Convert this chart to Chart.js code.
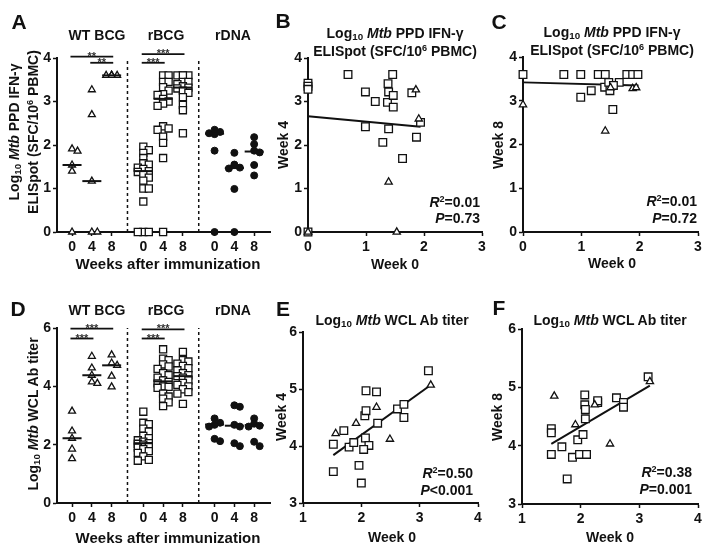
<!DOCTYPE html>
<html>
<head>
<meta charset="utf-8">
<title>Mtb PPD IFN-γ ELISpot and WCL Ab titer</title>
<script src="https://cdn.jsdelivr.net/npm/chart.js@4.4.1/dist/chart.umd.min.js"></script>
<style>
    html, body { margin: 0; padding: 0; background: #fff; }
    #page {
        position: relative;
        width: 713px;
        height: 547px;
        overflow: hidden;
        font-family: 'Liberation Sans', Arial, Helvetica, sans-serif;
        font-weight: bold;
        color: #111;
    }
    #page canvas { position: absolute; left: 0; top: 0; }
    .t {
        position: absolute;
        transform: translate(-50%, -50%);
        white-space: nowrap;
        font-size: 14px;
        line-height: 1;
    }
    .rt {
        position: absolute;
        transform: translate(-100%, -50%);
        white-space: nowrap;
        font-size: 14px;
        line-height: 1;
    }
    .rot { transform: translate(-50%, -50%) rotate(-90deg); }
    .letter { font-size: 21px; }
    .big { font-size: 15px; }
    sub { font-size: 0.7em; vertical-align: -0.25em; line-height: 0; }
    sup { font-size: 0.65em; vertical-align: 0.55em; line-height: 0; }
</style>
</head>
<body>
<div id="page">
    <canvas id="chartA" width="713" height="547"></canvas>
    <canvas id="chartB" width="713" height="547"></canvas>
    <canvas id="chartC" width="713" height="547"></canvas>
    <canvas id="chartD" width="713" height="547"></canvas>
    <canvas id="chartE" width="713" height="547"></canvas>
    <canvas id="chartF" width="713" height="547"></canvas>

    <!-- panel letters -->
    <div class="t letter" style="left:19px;top:21px">A</div>
    <div class="t letter" style="left:283px;top:20px">B</div>
    <div class="t letter" style="left:499px;top:21px">C</div>
    <div class="t letter" style="left:18px;top:308px">D</div>
    <div class="t letter" style="left:283px;top:308px">E</div>
    <div class="t letter" style="left:499px;top:307px">F</div>

    <!-- A -->
    <div class="t rot" style="left:14px;top:132px">Log<sub>10</sub> <i>Mtb</i> PPD IFN-γ</div>
    <div class="t rot" style="left:33px;top:132px">ELISpot (SFC/10<sup>6</sup> PBMC)</div>
    <div class="t big" style="left:168px;top:263px">Weeks after immunization</div>

    <!-- B -->
    <div class="t" style="left:395px;top:33px">Log<sub>10</sub> <i>Mtb</i> PPD IFN-γ</div>
    <div class="t" style="left:395px;top:51px">ELISpot (SFC/10<sup>6</sup> PBMC)</div>
    <div class="t rot" style="left:283px;top:145px">Week 4</div>
    <div class="t" style="left:395px;top:264px">Week 0</div>
    <div class="rt" style="left:480px;top:202px"><i>R</i><sup>2</sup>=0.01</div>
    <div class="rt" style="left:480px;top:218px"><i>P</i>=0.73</div>

    <!-- C -->
    <div class="t" style="left:612px;top:32px">Log<sub>10</sub> <i>Mtb</i> PPD IFN-γ</div>
    <div class="t" style="left:612px;top:50px">ELISpot (SFC/10<sup>6</sup> PBMC)</div>
    <div class="t rot" style="left:498px;top:145px">Week 8</div>
    <div class="t" style="left:612px;top:263px">Week 0</div>
    <div class="rt" style="left:697px;top:201px"><i>R</i><sup>2</sup>=0.01</div>
    <div class="rt" style="left:697px;top:218px"><i>P</i>=0.72</div>

    <!-- D -->
    <div class="t rot" style="left:33px;top:414px">Log<sub>10</sub> <i>Mtb</i> WCL Ab titer</div>
    <div class="t big" style="left:168px;top:537px">Weeks after immunization</div>

    <!-- E -->
    <div class="t" style="left:392px;top:320px">Log<sub>10</sub> <i>Mtb</i> WCL Ab titer</div>
    <div class="t rot" style="left:281px;top:417px">Week 4</div>
    <div class="t" style="left:392px;top:537px">Week 0</div>
    <div class="rt" style="left:473px;top:473px"><i>R</i><sup>2</sup>=0.50</div>
    <div class="rt" style="left:473px;top:490px"><i>P</i>&lt;0.001</div>

    <!-- F -->
    <div class="t" style="left:610px;top:320px">Log<sub>10</sub> <i>Mtb</i> WCL Ab titer</div>
    <div class="t rot" style="left:497px;top:417px">Week 8</div>
    <div class="t" style="left:610px;top:537px">Week 0</div>
    <div class="rt" style="left:692px;top:472px"><i>R</i><sup>2</sup>=0.38</div>
    <div class="rt" style="left:692px;top:489px"><i>P</i>=0.001</div>
</div>

<script>
/* ==========================================================
   DATA
========================================================== */

const weekLabels = ["0", "4", "8"];
const groupNames = ["WT BCG", "rBCG", "rDNA"];

// A : log10 PPD IFN-g ELISpot, one value per animal
const ifnWt0 = [1.91, 1.86, 1.54, 1.40, 0];
const ifnWt4 = [3.27, 2.70, 1.17, 0, 0];
const ifnWt8 = [3.60, 3.60, 3.60, 3.60, 3.60];
const ifnRbcg0 = [1.96, 1.88, 1.82, 1.70, 1.58, 1.55, 1.48, 1.45, 1.40, 1.38, 1.32, 1.25, 1.18, 1.00, 1.00, 0.70, 0, 0, 0];
const ifnRbcg4 = [3.60, 3.60, 3.45, 3.45, 3.33, 3.25, 3.17, 3.15, 3.06, 3.00, 2.95, 2.90, 2.43, 2.38, 2.35, 2.19, 2.05, 1.70, 0];
const ifnRbcg8 = [3.60, 3.60, 3.60, 3.60, 3.45, 3.45, 3.40, 3.35, 3.32, 3.30, 3.25, 3.20, 3.10, 2.92, 2.80, 2.27];
const ifnRdna0 = [2.35, 2.30, 2.27, 2.25, 1.87, 0];
const ifnRdna4 = [1.82, 1.55, 1.48, 1.46, 0.99, 0];
const ifnRdna8 = [2.18, 2.02, 1.87, 1.83, 1.54, 1.30];
const ifnMedians = [1.54, 1.17, 3.60, 1.40, 3.06, 3.32, 2.26, 1.47, 1.85];

const ifnSigFrom = [0, 1, 3, 3];
const ifnSigTo = [2, 2, 5, 4];
const ifnSigLevel = [4.03, 3.89, 4.09, 3.89];
const ifnSigText = ["**", "**", "***", "***"];

// D : log10 WCL antibody titer
const abWt0 = [3.15, 2.47, 2.22, 1.85, 1.52];
const abWt4 = [5.03, 4.63, 4.38, 4.15, 4.10];
const abWt8 = [5.08, 4.80, 4.72, 4.35, 3.98];
const abRbcg0 = [3.13, 2.75, 2.70, 2.55, 2.45, 2.30, 2.22, 2.15, 2.10, 2.05, 2.03, 2.00, 1.95, 1.90, 1.85, 1.78, 1.72, 1.60, 1.48, 1.45];
const abRbcg4 = [5.27, 4.95, 4.90, 4.75, 4.68, 4.60, 4.45, 4.38, 4.30, 4.20, 4.15, 4.10, 4.00, 3.98, 3.95, 3.75, 3.65, 3.58, 3.45, 3.32];
const abRbcg8 = [5.18, 4.90, 4.85, 4.78, 4.70, 4.62, 4.55, 4.45, 4.38, 4.35, 4.30, 4.20, 4.12, 4.05, 4.00, 3.90, 3.80, 3.75, 3.40];
const abRdna0 = [2.90, 2.75, 2.68, 2.62, 2.20, 2.12];
const abRdna4 = [3.35, 3.30, 2.68, 2.62, 2.05, 1.95];
const abRdna8 = [2.90, 2.72, 2.65, 2.62, 2.10, 1.95];
const abMedians = [2.22, 4.38, 4.72, 2.05, 4.17, 4.35, 2.69, 2.65, 2.67];

const abSigFrom = [0, 0, 3, 3];
const abSigTo = [2, 1, 5, 4];
const abSigLevel = [5.98, 5.64, 5.95, 5.64];
const abSigText = ["***", "***", "***", "***"];

// B : IFN week 0 vs week 4
const bSquareX = [0.69, 0.99, 1.16, 1.38, 1.39, 1.46, 1.37, 1.47, 1.47, 0.99, 1.39, 1.29, 1.63, 1.87, 1.79, 1.94, 0, 0, 0, 0];
const bSquareY = [3.62, 3.22, 3.00, 3.41, 3.22, 3.62, 2.98, 3.14, 2.87, 2.42, 2.37, 2.06, 1.69, 2.18, 3.20, 2.52, 3.42, 3.35, 3.28, 0];
const bTriX = [1.39, 1.53, 1.86, 1.91, 0];
const bTriY = [1.15, 0, 3.27, 2.60, 0];
const bFitX = [0, 1.94];
const bFitY = [2.66, 2.42];

// C : IFN week 0 vs week 8
const cSquareX = [0, 0.70, 0.99, 1.29, 1.41, 1.78, 1.88, 1.97, 0.99, 1.17, 1.40, 1.47, 1.65, 1.49, 1.54, 1.55];
const cSquareY = [3.60, 3.60, 3.60, 3.60, 3.60, 3.60, 3.60, 3.60, 3.08, 3.23, 3.31, 3.42, 3.42, 3.23, 2.80, 3.35];
const cTriX = [0, 1.41, 1.88, 1.94, 1.50];
const cTriY = [2.91, 2.31, 3.28, 3.30, 3.30];
const cFitX = [0, 1.98];
const cFitY = [3.42, 3.35];

// E : Ab week 0 vs week 4
const eSquareX = [1.52, 1.52, 1.70, 1.79, 1.87, 2.08, 2.06, 2.08, 2.07, 2.13, 2.04, 1.96, 2.00, 2.26, 2.28, 2.62, 2.73, 2.73, 3.15];
const eSquareY = [4.03, 3.55, 4.27, 3.98, 4.06, 4.97, 4.53, 4.62, 4.14, 4.01, 3.94, 3.66, 3.35, 4.95, 4.40, 4.65, 4.73, 4.50, 5.32];
const eTriX = [1.56, 1.91, 2.26, 2.49, 3.19];
const eTriY = [4.22, 4.40, 4.68, 4.12, 5.07];
const eFitX = [1.52, 3.19];
const eFitY = [3.84, 5.07];

// F : Ab week 0 vs week 8
const fSquareX = [1.50, 1.50, 1.50, 1.68, 1.77, 1.86, 1.98, 1.95, 2.04, 2.07, 2.07, 2.08, 2.08, 2.10, 2.29, 2.29, 2.61, 2.73, 2.73, 3.15];
const fSquareY = [3.85, 4.29, 4.22, 3.98, 3.43, 3.80, 3.85, 4.10, 4.19, 4.70, 4.87, 4.62, 4.46, 3.85, 4.74, 4.77, 4.82, 4.74, 4.66, 5.18];
const fTriX = [1.55, 1.91, 2.50, 3.18, 2.24];
const fTriY = [4.85, 4.36, 4.03, 5.10, 4.70];
const fFitX = [1.50, 3.18];
const fFitY = [4.03, 5.03];


/* ==========================================================
   LAYOUT
========================================================== */

const W = 713;
const H = 547;
const FONT = "'Liberation Sans', Arial, Helvetica, sans-serif";
const INK = "#111";

// column centres on the dot plot x axis (3 weeks x 3 groups)
const colPos = [0, 1, 2, 3.6, 4.6, 5.6, 7.2, 8.2, 9.2];
const sepPos = [2.8, 6.4];
const groupCentreX = [97, 166, 233];

const boxA = { left: 57, right: 270, top: 58, bottom: 232 };
const boxD = { left: 57, right: 270, top: 328, bottom: 503 };
const boxB = { left: 308, right: 482, top: 58, bottom: 232 };
const boxC = { left: 523, right: 698, top: 57, bottom: 232 };
const boxE = { left: 303, right: 478, top: 332, bottom: 503 };
const boxF = { left: 522, right: 698, top: 329, bottom: 504 };

Chart.defaults.font.family = FONT;
Chart.defaults.font.size = 14;
Chart.defaults.font.weight = "bold";
Chart.defaults.color = INK;
Chart.defaults.animation = false;
Chart.defaults.events = [];
Chart.defaults.plugins.legend.display = false;
Chart.defaults.plugins.tooltip.enabled = false;

const TRIANGLE = {
    pointStyle: "triangle",
    pointRadius: 4,
    pointBorderWidth: 1.3,
    pointBackgroundColor: "#fff",
    pointBorderColor: INK
};

const SQUARE = {
    pointStyle: "rect",
    pointRadius: 5,
    pointBorderWidth: 1.3,
    pointBackgroundColor: "#fff",
    pointBorderColor: INK
};

const DOT = {
    pointStyle: "circle",
    pointRadius: 3.5,
    pointBorderWidth: 1,
    pointBackgroundColor: INK,
    pointBorderColor: INK
};


/* ==========================================================
   HELPERS
========================================================== */

function pairUp(xs, ys) {

    return xs.map((x, i) => ({ x: x, y: ys[i] }));

}

function paddingFor(box) {

    return {
        left: box.left - 30,
        top: box.top,
        right: W - box.right,
        bottom: H - box.bottom - 30
    };

}

function linearAxis(axis, min, max, step) {

    return {
        type: "linear",
        position: axis === "x" ? "bottom" : "left",
        min: min,
        max: max,
        ticks: {
            stepSize: step,
            padding: axis === "x" ? 3 : 2,
            autoSkip: false,
            maxRotation: 0,
            color: INK,
            font: { size: 14, weight: "bold" }
        },
        grid: {
            drawOnChartArea: false,
            drawTicks: true,
            tickLength: 4,
            tickWidth: 1.5,
            tickColor: INK
        },
        border: { color: INK, width: 2 },
        afterFit(scale) {
            if (axis === "x") scale.height = 30;
            else scale.width = 30;
        }
    };

}

function lineSet(xs, ys, width, order) {

    return {
        data: pairUp(xs, ys),
        showLine: true,
        borderColor: INK,
        borderWidth: width,
        pointRadius: 0,
        clip: false,
        order: order
    };

}

// nudge points of one column sideways (centre, right, left) so they overlap less
function swarm(values, centre, xPx, yPx) {

    const placed = [];
    const slots = [0, 1, -1];
    const step = 5.5 / xPx;

    return values.map(v => {

        let best = null;
        let bestGap = -1;

        for (const k of slots) {

            const x = centre + k * step;

            let gap = Infinity;

            placed.forEach(p => {
                gap = Math.min(gap, Math.hypot((p.x - x) * xPx, (p.y - v) * yPx));
            });

            if (gap >= 4.5) {
                best = x;
                break;
            }

            if (gap > bestGap) {
                bestGap = gap;
                best = x;
            }

        }

        placed.push({ x: best, y: v });

        return { x: best, y: v };

    });

}

// asterisks over the significance bars
const sigTextPlugin = {

    id: "sigText",

    afterDatasetsDraw(chart, args, opts) {

        if (!opts.from) return;

        const { ctx, scales } = chart;

        ctx.save();
        ctx.font = "bold 11px " + FONT;
        ctx.fillStyle = "#333";
        ctx.textAlign = "center";
        ctx.textBaseline = "alphabetic";

        opts.from.forEach((f, i) => {

            const mid = (colPos[f] + colPos[opts.to[i]]) / 2;

            ctx.fillText(
                opts.text[i],
                scales.x.getPixelForValue(mid),
                scales.y.getPixelForValue(opts.level[i]) + 3
            );

        });

        ctx.restore();

    }

};


/* ==========================================================
   DOT PLOT (A, D)
========================================================== */

function renderDotPlot(id, box, columns, medians, sig, yMax, yStep) {

    const xMin = -0.76;
    const xMax = 10.0;
    const xPx = (box.right - box.left) / (xMax - xMin);
    const yPx = (box.bottom - box.top) / yMax;
    const markers = [TRIANGLE, SQUARE, DOT];

    const datasets = [];

    groupNames.forEach((name, g) => {

        let pts = [];

        for (let w = 0; w < 3; w++) {
            const c = g * 3 + w;
            pts = pts.concat(swarm(columns[c], colPos[c], xPx, yPx));
        }

        datasets.push(Object.assign({
            label: name,
            data: pts,
            clip: false,
            order: 1
        }, markers[g]));

    });

    medians.forEach((m, c) => {

        datasets.push(lineSet([colPos[c] - 0.48, colPos[c] + 0.48], [m, m], 2, 0));

    });

    sepPos.forEach(s => {

        const ds = lineSet([s, s], [0, yMax], 1.5, 2);
        ds.borderDash = [3, 3];
        datasets.push(ds);

    });

    sig.from.forEach((f, i) => {

        datasets.push(lineSet(
            [colPos[f] - 0.08, colPos[sig.to[i]] + 0.08],
            [sig.level[i], sig.level[i]],
            1.8, 0));

    });

    const xAxis = linearAxis("x", xMin, xMax, 1);

    xAxis.afterBuildTicks = scale => {
        scale.ticks = colPos.map(v => ({ value: v }));
    };

    xAxis.ticks.callback = (value, index) => weekLabels[index % 3];

    new Chart(document.getElementById(id), {

        type: "scatter",

        data: { datasets: datasets },

        options: {
            responsive: false,
            layout: { padding: paddingFor(box) },
            scales: {
                x: xAxis,
                y: linearAxis("y", 0, yMax, yStep)
            },
            plugins: {
                sigText: sig
            }
        },

        plugins: [sigTextPlugin]

    });

}


/* ==========================================================
   SCATTER WITH FIT LINE (B, C, E, F)
========================================================== */

function renderScatter(id, box, xRange, yRange, sqX, sqY, triX, triY, fitX, fitY) {

    const squares = Object.assign({
        label: "rBCG",
        data: pairUp(sqX, sqY),
        clip: false,
        order: 1
    }, SQUARE, { pointRadius: 5.4 });

    const triangles = Object.assign({
        label: "WT BCG",
        data: pairUp(triX, triY),
        clip: false,
        order: 0
    }, TRIANGLE, { pointRadius: 4.2 });

    new Chart(document.getElementById(id), {

        type: "scatter",

        data: {
            datasets: [
                triangles,
                squares,
                lineSet(fitX, fitY, 2, 2)
            ]
        },

        options: {
            responsive: false,
            layout: { padding: paddingFor(box) },
            scales: {
                x: linearAxis("x", xRange[0], xRange[1], 1),
                y: linearAxis("y", yRange[0], yRange[1], 1)
            }
        }

    });

}


/* ==========================================================
   INIT
========================================================== */

function addGroupLabels(top) {

    const page = document.getElementById("page");

    groupNames.forEach((name, g) => {

        const div = document.createElement("div");
        div.className = "t";
        div.style.left = groupCentreX[g] + "px";
        div.style.top = top + "px";
        div.textContent = name;
        page.appendChild(div);

    });

}

addGroupLabels(35);
addGroupLabels(310);

renderDotPlot(
    "chartA", boxA,
    [ifnWt0, ifnWt4, ifnWt8, ifnRbcg0, ifnRbcg4, ifnRbcg8, ifnRdna0, ifnRdna4, ifnRdna8],
    ifnMedians,
    { from: ifnSigFrom, to: ifnSigTo, level: ifnSigLevel, text: ifnSigText },
    4, 1
);

renderDotPlot(
    "chartD", boxD,
    [abWt0, abWt4, abWt8, abRbcg0, abRbcg4, abRbcg8, abRdna0, abRdna4, abRdna8],
    abMedians,
    { from: abSigFrom, to: abSigTo, level: abSigLevel, text: abSigText },
    6, 2
);

renderScatter("chartB", boxB, [0, 3], [0, 4], bSquareX, bSquareY, bTriX, bTriY, bFitX, bFitY);
renderScatter("chartC", boxC, [0, 3], [0, 4], cSquareX, cSquareY, cTriX, cTriY, cFitX, cFitY);
renderScatter("chartE", boxE, [1, 4], [3, 6], eSquareX, eSquareY, eTriX, eTriY, eFitX, eFitY);
renderScatter("chartF", boxF, [1, 4], [3, 6], fSquareX, fSquareY, fTriX, fTriY, fFitX, fFitY);
</script>
</body>
</html>
